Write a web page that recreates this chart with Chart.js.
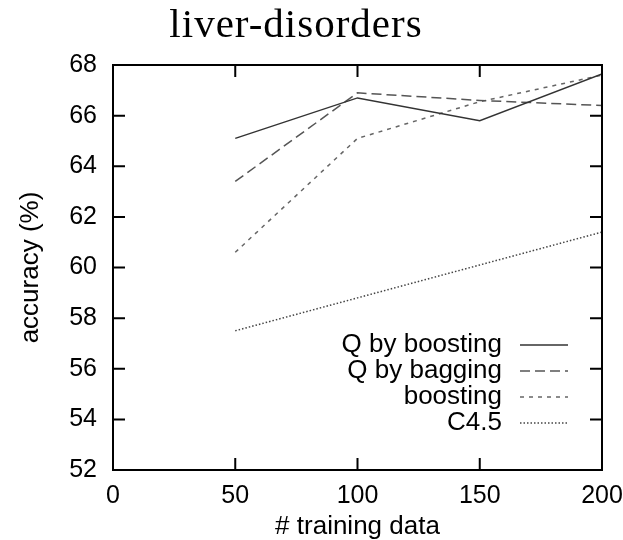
<!DOCTYPE html>
<html>
<head>
<meta charset="utf-8">
<script src="https://cdn.jsdelivr.net/npm/chart.js@4.4.1/dist/chart.umd.min.js"></script>
<style>
  body { margin: 0; background: #fff; }
  #wrap { width: 623px; height: 540px; }
</style>
</head>
<body>
<div id="wrap"><canvas id="chart" width="623" height="540"></canvas></div>
<script>
const trainingSizes = [50, 100, 150, 200];
const qBoosting = [65.1, 66.7, 65.8, 67.65];
const qBagging = [63.4, 66.9, 66.6, 66.4];
const boosting = [60.6, 65.1, 66.55, 67.6];
const c45 = [57.5, 58.8, 60.1, 61.4];
const seriesNames = ["Q by boosting", "Q by bagging", "boosting", "C4.5"];
const chartTitle = "liver-disorders";

function toPoints(values) {
  return trainingSizes.map((x, i) => ({ x: x, y: values[i] }));
}

const sansFont = "'Liberation Sans', Arial, sans-serif";

// gnuplot-style frame with inward tick marks on all four sides
const framePlugin = {
  id: "frame",
  afterDraw(chart) {
    const ctx = chart.ctx;
    const a = chart.chartArea;
    const xs = chart.scales.x;
    const ys = chart.scales.y;
    const len = 12;
    ctx.save();
    ctx.strokeStyle = "#000";
    ctx.lineWidth = 2;
    ctx.setLineDash([]);
    ctx.beginPath();
    xs.ticks.forEach(t => {
      const px = xs.getPixelForValue(t.value);
      ctx.moveTo(px, a.bottom); ctx.lineTo(px, a.bottom - len);
      ctx.moveTo(px, a.top); ctx.lineTo(px, a.top + len);
    });
    ys.ticks.forEach(t => {
      const py = ys.getPixelForValue(t.value);
      ctx.moveTo(a.left, py); ctx.lineTo(a.left + len, py);
      ctx.moveTo(a.right, py); ctx.lineTo(a.right - len, py);
    });
    ctx.stroke();
    ctx.strokeRect(a.left, a.top, a.right - a.left, a.bottom - a.top);

    // title
    ctx.fillStyle = "#000";
    ctx.font = "41px 'Liberation Serif', 'Times New Roman', serif";
    ctx.letterSpacing = "1px";
    ctx.textAlign = "center";
    ctx.textBaseline = "alphabetic";
    ctx.fillText(chartTitle, 296, 37);
    ctx.letterSpacing = "0px";

    // legend inside the plot, gnuplot style
    ctx.font = "26px " + sansFont;
    ctx.textAlign = "right";
    ctx.textBaseline = "middle";
    const textRight = a.right - 100;
    chart.data.datasets.forEach((ds, i) => {
      const y = 345 + i * 26;
      ctx.fillStyle = "#000";
      ctx.fillText(ds.label, textRight, y);
      ctx.strokeStyle = ds.borderColor;
      ctx.lineWidth = ds.borderWidth;
      ctx.setLineDash(ds.borderDash || []);
      ctx.beginPath();
      ctx.moveTo(textRight + 18, y);
      ctx.lineTo(textRight + 66, y);
      ctx.stroke();
    });
    ctx.restore();
  }
};

new Chart(document.getElementById("chart"), {
  type: "line",
  data: {
    datasets: [
      { label: seriesNames[0], data: toPoints(qBoosting), borderColor: "#333", borderWidth: 1.5, borderDash: [] },
      { label: seriesNames[1], data: toPoints(qBagging), borderColor: "#555", borderWidth: 1.5, borderDash: [10, 5] },
      { label: seriesNames[2], data: toPoints(boosting), borderColor: "#666", borderWidth: 1.5, borderDash: [4, 5] },
      { label: seriesNames[3], data: toPoints(c45), borderColor: "#444", borderWidth: 1.5, borderDash: [1.5, 2] }
    ]
  },
  options: {
    responsive: false,
    animation: false,
    layout: { padding: { top: 65, right: 21, left: 0, bottom: 0 } },
    elements: { point: { radius: 0 }, line: { tension: 0 } },
    plugins: {
      legend: { display: false },
      tooltip: { enabled: false }
    },
    scales: {
      x: {
        type: "linear",
        min: 0,
        max: 200,
        ticks: { stepSize: 50, color: "#000", font: { family: sansFont, size: 25 }, padding: 11, maxRotation: 0 },
        grid: { display: false, drawTicks: false },
        border: { display: false },
        title: { display: true, text: "# training data", color: "#000", font: { family: sansFont, size: 26, lineHeight: 1 }, padding: { top: 0, bottom: 0 } },
        afterFit(scale) {
          scale.height = 70;
          scale.paddingLeft = 0;
          scale.paddingRight = 0;
        }
      },
      y: {
        min: 52,
        max: 68,
        ticks: { stepSize: 2, color: "#000", font: { family: sansFont, size: 25 }, padding: 16 },
        grid: { display: false, drawTicks: false },
        border: { display: false },
        title: { display: true, text: "accuracy (%)", color: "#000", font: { family: sansFont, size: 26 }, padding: { top: 15, bottom: 0 } },
        afterFit(scale) {
          scale.width = 113;
          scale.paddingTop = 0;
          scale.paddingBottom = 0;
        }
      }
    }
  },
  plugins: [framePlugin]
});
</script>
</body>
</html>
